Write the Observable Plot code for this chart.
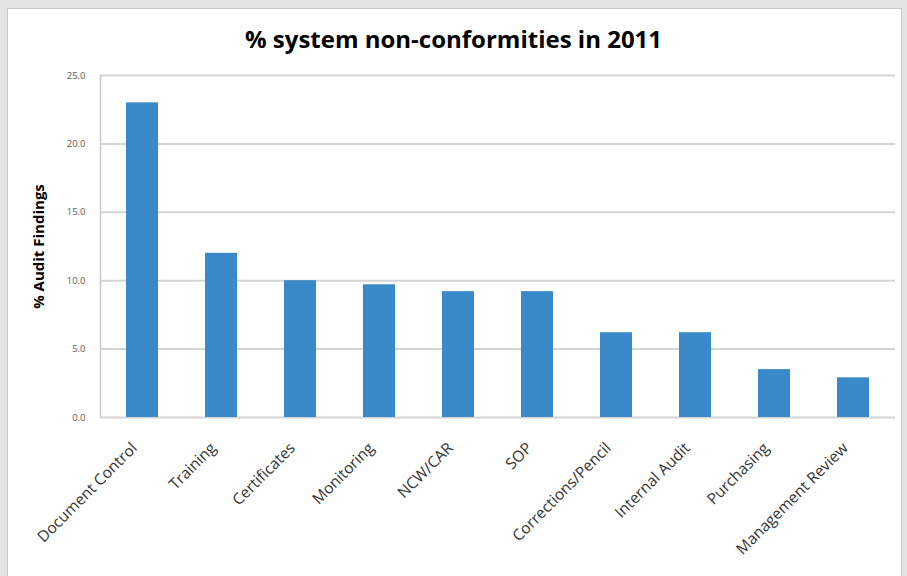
<!DOCTYPE html>
<html>
<head>
<meta charset="utf-8">
<script src="https://cdn.jsdelivr.net/npm/d3@7"></script>
<script src="https://cdn.jsdelivr.net/npm/@observablehq/plot@0.6"></script>
<style>
  html, body { margin: 0; padding: 0; background: #e4e4e4; }
  #frame { position: absolute; left: 7px; top: 8px; width: 895px; height: 580px; background: #fff; border: 1px solid #c8c8c8; box-sizing: border-box; overflow: hidden; }
  #title { position: absolute; left: 0; top: 0; width: 907px; height: 60px; text-align: center; font: bold 24px "Open Sans", Lato, sans-serif; color: #000; line-height: 24px; padding-top: 27px; box-sizing: border-box; }
  #chart { position: absolute; left: 0; top: 60px; }
</style>
</head>
<body>
<div id="frame"></div>
<div id="title">% system non-conformities in 2011</div>
<div id="chart"></div>
<script>
const categories = ["Document Control", "Training", "Certificates", "Monitoring", "NCW/CAR", "SOP", "Corrections/Pencil", "Internal Audit", "Purchasing", "Management Review"];
const values = [23.0, 12.0, 10.0, 9.7, 9.2, 9.2, 6.2, 6.2, 3.5, 2.9];
const yTicks = [0, 5, 10, 15, 20, 25];

const data = categories.map((c, i) => ({category: c, value: values[i]}));

const chart = Plot.plot({
  width: 907,
  height: 516,
  marginTop: 15,
  marginBottom: 159,
  marginLeft: 100,
  marginRight: 12,
  style: {fontFamily: "'Open Sans', Lato, sans-serif", background: "transparent"},
  x: {domain: categories, paddingInner: 0.6, paddingOuter: 0.3, label: null},
  y: {domain: [0, 25], ticks: yTicks, label: null},
  marks: [
    Plot.gridY(yTicks, {stroke: "#d4d4d4", strokeOpacity: 1, strokeWidth: 2}),
    Plot.frame({anchor: "left", stroke: "#c8c8c8", strokeWidth: 1.5}),
    Plot.barY(data, {x: "category", y: "value", fill: "#3a89c9"}),
    Plot.axisY({ticks: yTicks, tickSize: 0, tickPadding: 15, tickFormat: d => d.toFixed(1), fontSize: 9.5, color: "#595959", label: "% Audit Findings", labelAnchor: "center", labelArrow: "none", labelOffset: 67}),
    Plot.axisX({tickSize: 0, tickPadding: 28, dx: -8, tickRotate: -45, fontSize: 15.5, color: "#333", label: null})
  ]
});
document.getElementById("chart").appendChild(chart);
chart.querySelectorAll("[aria-label='y-axis label'] text, [aria-label='y-axis label']").forEach(el => { el.style.fontWeight = "bold"; el.style.fontSize = "15px"; el.style.fill = "#000"; });
</script>
</body>
</html>
